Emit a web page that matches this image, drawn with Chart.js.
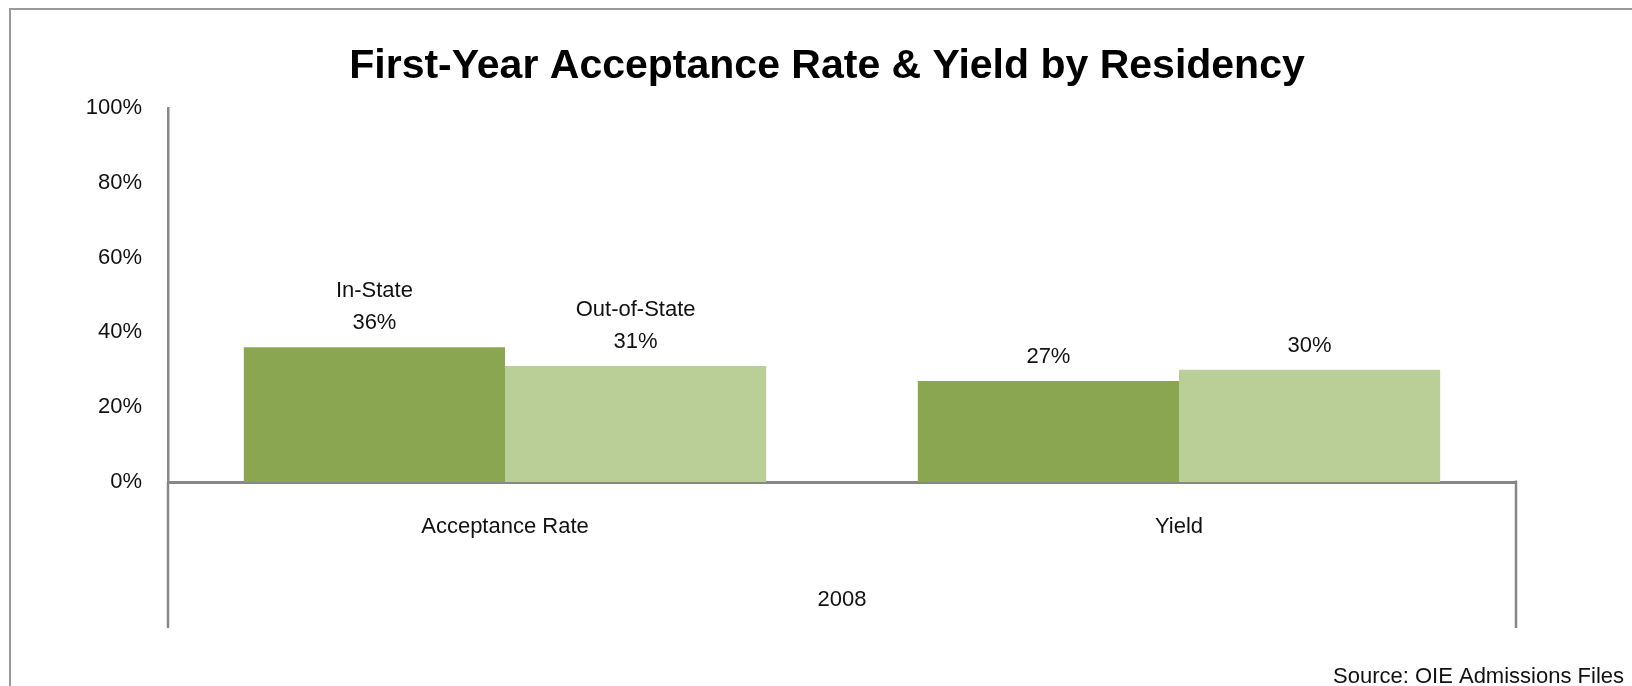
<!DOCTYPE html>
<html>
<head>
<meta charset="utf-8">
<script src="https://cdn.jsdelivr.net/npm/chart.js@4.4.1/dist/chart.umd.min.js"></script>
<style>
  html, body { margin: 0; padding: 0; background: #fff; }
  #wrap { width: 1632px; height: 686px; position: relative; }
</style>
</head>
<body>
<div id="wrap"><canvas id="rateChart"></canvas></div>
<script>
// chart data
const chartTitle = "First-Year Acceptance Rate & Yield by Residency";
const categories = ["Acceptance Rate", "Yield"];
const seriesNames = ["In-State", "Out-of-State"];
const inState = [36, 27];
const outOfState = [31, 30];
const yTicks = [0, 20, 40, 60, 80, 100];
const groupLabel = "2008";
const sourceNote = "Source: OIE Admissions Files";

const FONT = "'Liberation Sans', Arial, sans-serif";
const AXIS_GRAY = "#878787";

// draws the frame, title, value labels, group lines and source note
const extrasPlugin = {
  id: "extras",
  beforeDraw(chart) {
    const ctx = chart.ctx;
    ctx.save();
    ctx.strokeStyle = "#9a9a9a";
    ctx.lineWidth = 2;
    ctx.beginPath();
    ctx.moveTo(10, chart.height);
    ctx.lineTo(10, 9);
    ctx.lineTo(chart.width, 9);
    ctx.stroke();

    // title sits a bit right of the canvas centre, like the original
    ctx.fillStyle = "#000";
    ctx.font = "bold 41px " + FONT;
    ctx.textAlign = "center";
    ctx.textBaseline = "middle";
    ctx.fillText(chartTitle, chart.width / 2 + 11, 67);
    ctx.restore();
  },
  afterDraw(chart) {
    const ctx = chart.ctx;
    const area = chart.chartArea;
    const xScale = chart.scales.x;
    ctx.save();

    // vertical lines under the axis (multi-level category box)
    ctx.strokeStyle = AXIS_GRAY;
    ctx.lineWidth = 2.5;
    ctx.beginPath();
    ctx.moveTo(area.left, area.bottom);
    ctx.lineTo(area.left, xScale.bottom - 58);
    ctx.moveTo(area.right, area.bottom - 1.5);
    ctx.lineTo(area.right, xScale.bottom - 58);
    ctx.stroke();

    // value labels above bars
    ctx.fillStyle = "#111";
    ctx.font = "22px " + FONT;
    ctx.textAlign = "center";
    ctx.textBaseline = "middle";
    chart.data.datasets.forEach((ds, i) => {
      const meta = chart.getDatasetMeta(i);
      meta.data.forEach((bar, j) => {
        const lines = [ds.data[j] + "%"];
        if (j === 0) lines.unshift(ds.label); // series name only on first group
        let y = bar.y - 24;
        for (let k = lines.length - 1; k >= 0; k--) {
          ctx.fillText(lines[k], bar.x, y);
          y -= 32;
        }
      });
    });

    // source note
    ctx.textAlign = "right";
    ctx.fillText(sourceNote, chart.width - 8, chart.height - 9);
    ctx.restore();
  }
};

const ctx = document.getElementById("rateChart").getContext("2d");
new Chart(ctx, {
  type: "bar",
  data: {
    labels: categories,
    datasets: [
      {
        label: seriesNames[0],
        data: inState,
        backgroundColor: "#8ba651",
        barPercentage: 1.0,
        categoryPercentage: 0.775,
      },
      {
        label: seriesNames[1],
        data: outOfState,
        backgroundColor: "#bacf97",
        barPercentage: 1.0,
        categoryPercentage: 0.775,
      },
    ],
  },
  options: {
    responsive: true,
    maintainAspectRatio: false,
    animation: false,
    layout: { padding: { left: 0, right: 116, top: 108, bottom: 0 } },
    plugins: {
      legend: { display: false },
      tooltip: { enabled: false },
      title: { display: false },
    },
    scales: {
      x: {
        grid: { display: false },
        border: { display: true, color: AXIS_GRAY, width: 3 },
        ticks: {
          color: "#111",
          padding: 24,
          font: { family: FONT, size: 22 },
        },
        title: {
          display: true,
          text: groupLabel,
          color: "#111",
          font: { family: FONT, size: 22 },
          padding: { top: 0, bottom: 73 },
        },
        afterFit(scale) {
          scale.height = 204;
        },
      },
      y: {
        min: yTicks[0],
        max: yTicks[yTicks.length - 1],
        grid: { display: false },
        border: { display: true, color: AXIS_GRAY, width: 2.5 },
        afterBuildTicks(scale) {
          scale.ticks = yTicks.map((v) => ({ value: v }));
        },
        ticks: {
          color: "#111",
          padding: 18,
          font: { family: FONT, size: 22 },
          callback: (v) => v + "%",
        },
        afterFit(scale) {
          scale.width = 168;
        },
      },
    },
  },
  plugins: [extrasPlugin],
});
</script>
</body>
</html>
